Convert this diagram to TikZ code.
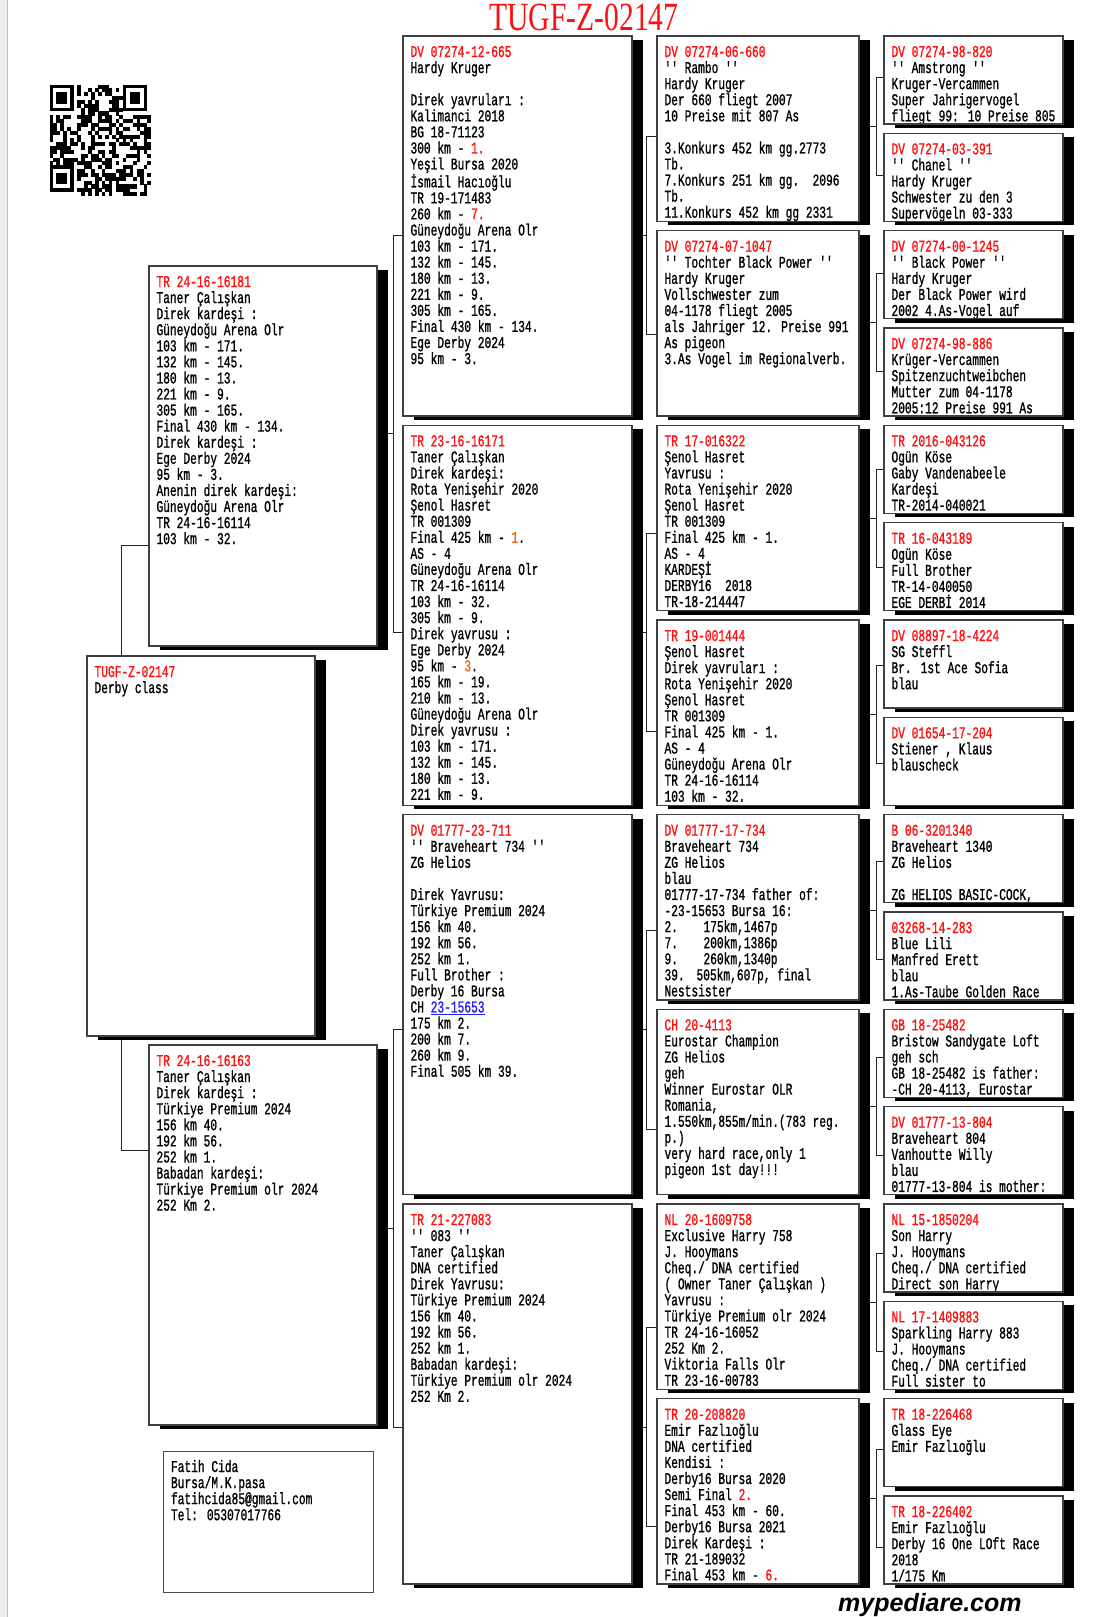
\documentclass[tikz,border=0pt]{standalone}
\usepackage{fontspec}
\usepackage{graphicx}
\setmainfont{Liberation Serif}
\newfontfamily\monof[FakeStretch=0.68,FakeBold=1.0,Ligatures=TeXOff]{Liberation Mono}
\newfontfamily\wmfont{Liberation Sans}
\usetikzlibrary{shadows,backgrounds}
\pgfdeclarelayer{bgzero}
\pgfsetlayers{bgzero,background,main}
\definecolor{idred}{HTML}{FF1010}
\definecolor{hlor}{HTML}{E8651A}
\definecolor{lnk}{HTML}{2020FF}
\newcommand{\rdx}[1]{\textcolor{idred}{#1}}
\newcommand{\ogx}[1]{\textcolor{hlor}{#1}}
\newcommand{\blnk}{\mbox{}}
\tikzset{
  pbx/.style={rectangle, fill=white, inner sep=0pt, outer sep=0pt, anchor=north west,
     drop shadow={shadow xshift=11pt, shadow yshift=-4pt, fill=black, opacity=1}},
  pbord/.style={draw=black!75, line width=1.1pt},
  ptxt/.style={anchor=north west, inner sep=0pt, outer sep=0pt, align=left,
     font=\monof\fontsize{16.5}{16.07}\selectfont},
  conn/.style={draw=black!85, line width=1pt},
}
\newcommand{\pedbox}[6]{%
  \node[pbx, minimum width=#4pt, minimum height=#5pt] (#1) at (#2,#3) {};
  \begin{scope}
    \clip (#1.north west) rectangle (#1.south east);
    \node[ptxt] (#1-t) at ([xshift=7.5pt,yshift=-9pt]#1.north west) {\rule{0pt}{12pt}#6};
  \end{scope}
  \draw[pbord] (#1.north west) rectangle (#1.south east);
}
\newcommand{\pconn}[7]{%
  \coordinate (#1-p) at (#2,#3);
  \coordinate (#1-a) at (#2,#5);
  \coordinate (#1-b) at (#2,#7);
  \draw[conn] (#1.east |- #1-p) -- (#1-p);
  \draw[conn] (#4.west |- #1-a) -- (#1-a) -- (#1-b) -- (#6.west |- #1-b);
}
\begin{document}
\begin{tikzpicture}[x=1pt,y=-1pt]
\useasboundingbox (0,0) rectangle (1113,1617);
\begin{pgfonlayer}{bgzero}
  \fill[white] (0,0) rectangle (1113,1617);
  \fill[black!7] (0,0) rectangle (7,1617);
  \draw[black!25, line width=1pt] (7.5,0) -- (7.5,1617);
\end{pgfonlayer}

% title
\node[text=idred, font=\fontsize{40}{40}\selectfont, inner sep=0pt] (title) at (584,17.5) {\scalebox{0.74}[1]{TUGF-Z-02147}};

% QR code
\begin{scope}[shift={(49.5,84.6)}]
  \def\mw{3.487}\def\mh{3.841}
  \pgfmathsetseed{4242}
  \foreach \i in {0,...,28}{
    \foreach \j in {0,...,28}{
      \pgfmathtruncatemacro\qv{(((\i<8)&&(\j<8)) || ((\i>20)&&(\j<8)) || ((\i<8)&&(\j>20))) ? 0 : ((rnd<0.5) ? 1 : 0)}
      \ifnum\qv=1 \fill[black] (\i*\mw,\j*\mh) rectangle ++(\mw+0.2,\mh+0.2); \fi
    }
  }
  \foreach \fx/\fy in {0/0,21/0,0/21}{
    \fill[black] (\fx*\mw,\fy*\mh) rectangle ++(7*\mw,7*\mh);
    \fill[white] (\fx*\mw+\mw,\fy*\mh+\mh) rectangle ++(5*\mw,5*\mh);
    \fill[black] (\fx*\mw+2*\mw,\fy*\mh+2*\mh) rectangle ++(3*\mw,3*\mh);
  }
\end{scope}

% column 4
\pedbox{c4a}{884}{36}{179}{88}{\rdx{DV 07274-98-820}\\'' Amstrong ''\\Kruger-Vercammen\\Super Jahrigervogel\\fliegt 99: 10 Preise 805}
\pedbox{c4b}{884}{133.33}{179}{88}{\rdx{DV 07274-03-391}\\'' Chanel ''\\Hardy Kruger\\Schwester zu den 3\\Supervögeln 03-333}
\pedbox{c4c}{884}{230.67}{179}{88}{\rdx{DV 07274-00-1245}\\'' Black Power ''\\Hardy Kruger\\Der Black Power wird\\2002 4.As-Vogel auf}
\pedbox{c4d}{884}{328}{179}{88}{\rdx{DV 07274-98-886}\\Krüger-Vercammen\\Spitzenzuchtweibchen\\Mutter zum 04-1178\\2005:12 Preise 991 As}
\pedbox{c4e}{884}{425.33}{179}{88}{\rdx{TR 2016-043126}\\Ogün Köse\\Gaby Vandenabeele\\Kardeşi\\TR-2014-040021}
\pedbox{c4f}{884}{522.67}{179}{88}{\rdx{TR 16-043189}\\Ogün Köse\\Full Brother\\TR-14-040050\\EGE DERBİ 2014}
\pedbox{c4g}{884}{620}{179}{88}{\rdx{DV 08897-18-4224}\\SG Steffl\\Br. 1st Ace Sofia\\blau}
\pedbox{c4h}{884}{717.33}{179}{88}{\rdx{DV 01654-17-204}\\Stiener , Klaus\\blauscheck}
\pedbox{c4i}{884}{814.67}{179}{88}{\rdx{B 06-3201340}\\Braveheart 1340\\ZG Helios\\\blnk\\ZG HELIOS BASIC-COCK,}
\pedbox{c4j}{884}{912}{179}{88}{\rdx{03268-14-283}\\Blue Lili\\Manfred Erett\\blau\\1.As-Taube Golden Race}
\pedbox{c4k}{884}{1009.33}{179}{88}{\rdx{GB 18-25482}\\Bristow Sandygate Loft\\geh sch\\GB 18-25482 is father:\\-CH 20-4113, Eurostar}
\pedbox{c4l}{884}{1106.67}{179}{88}{\rdx{DV 01777-13-804}\\Braveheart 804\\Vanhoutte Willy\\blau\\01777-13-804 is mother:}
\pedbox{c4m}{884}{1204}{179}{88}{\rdx{NL 15-1850204}\\Son Harry\\J. Hooymans\\Cheq./ DNA certified\\Direct son Harry}
\pedbox{c4n}{884}{1301.33}{179}{88}{\rdx{NL 17-1409883}\\Sparkling Harry 883\\J. Hooymans\\Cheq./ DNA certified\\Full sister to}
\pedbox{c4o}{884}{1398.67}{179}{88}{\rdx{TR 18-226468}\\Glass Eye\\Emir Fazlıoğlu}
\pedbox{c4p}{884}{1496}{179}{88}{\rdx{TR 18-226402}\\Emir Fazlıoğlu\\Derby 16 One LOft Race\\2018\\1/175 Km}

% column 3
\pedbox{c3a}{657}{36}{202}{185.33}{\rdx{DV 07274-06-660}\\'' Rambo ''\\Hardy Kruger\\Der 660 fliegt 2007\\10 Preise mit 807 As\\\blnk\\3.Konkurs 452 km gg.2773\\Tb.\\7.Konkurs 251 km gg.\ \ 2096\\Tb.\\11.Konkurs 452 km gg 2331}
\pedbox{c3b}{657}{230.67}{202}{185.33}{\rdx{DV 07274-07-1047}\\'' Tochter Black Power ''\\Hardy Kruger\\Vollschwester zum\\04-1178 fliegt 2005\\als Jahriger 12. Preise 991\\As pigeon\\3.As Vogel im Regionalverb.}
\pedbox{c3c}{657}{425.33}{202}{185.33}{\rdx{TR 17-016322}\\Şenol Hasret\\Yavrusu :\\Rota Yenişehir 2020\\Şenol Hasret\\TR 001309\\Final 425 km - 1.\\AS - 4\\KARDEŞİ\\DERBY16\ \ 2018\\TR-18-214447}
\pedbox{c3d}{657}{620}{202}{185.33}{\rdx{TR 19-001444}\\Şenol Hasret\\Direk yavruları :\\Rota Yenişehir 2020\\Şenol Hasret\\TR 001309\\Final 425 km - 1.\\AS - 4\\Güneydoğu Arena Olr\\TR 24-16-16114\\103 km - 32.}
\pedbox{c3e}{657}{814.67}{202}{185.33}{\rdx{DV 01777-17-734}\\Braveheart 734\\ZG Helios\\blau\\01777-17-734 father of:\\-23-15653 Bursa 16:\\\makebox[39pt][l]{2.}175km,1467p\\\makebox[39pt][l]{7.}200km,1386p\\\makebox[39pt][l]{9.}260km,1340p\\\makebox[32pt][l]{39.}505km,607p, final\\Nestsister}
\pedbox{c3f}{657}{1009.33}{202}{185.33}{\rdx{CH 20-4113}\\Eurostar Champion\\ZG Helios\\geh\\Winner Eurostar OLR\\Romania,\\1.550km,855m/min.(783 reg.\\p.)\\very hard race,only 1\\pigeon 1st day!!!}
\pedbox{c3g}{657}{1204}{202}{185.33}{\rdx{NL 20-1609758}\\Exclusive Harry 758\\J. Hooymans\\Cheq./ DNA certified\\( Owner Taner Çalışkan )\\Yavrusu :\\Türkiye Premium olr 2024\\TR 24-16-16052\\252 Km 2.\\Viktoria Falls Olr\\TR 23-16-00783}
\pedbox{c3h}{657}{1398.67}{202}{185.33}{\rdx{TR 20-208820}\\Emir Fazlıoğlu\\DNA certified\\Kendisi :\\Derby16 Bursa 2020\\Semi Final \rdx{2.}\\Final 453 km - 60.\\Derby16 Bursa 2021\\Direk Kardeşi :\\TR 21-189032\\Final 453 km - \rdx{6.}}

% column 2
\pedbox{c2a}{403}{36}{229}{380}{\rdx{DV 07274-12-665}\\Hardy Kruger\\\blnk\\Direk yavruları :\\Kalimanci 2018\\BG 18-71123\\300 km - \rdx{1.}\\Yeşil Bursa 2020\\İsmail Hacıoğlu\\TR 19-171483\\260 km - \rdx{7.}\\Güneydoğu Arena Olr\\103 km - 171.\\132 km - 145.\\180 km - 13.\\221 km - 9.\\305 km - 165.\\Final 430 km - 134.\\Ege Derby 2024\\95 km - 3.}
\pedbox{c2b}{403}{425.33}{229}{380}{\rdx{TR 23-16-16171}\\Taner Çalışkan\\Direk kardeşi:\\Rota Yenişehir 2020\\Şenol Hasret\\TR 001309\\Final 425 km - \ogx{1}.\\AS - 4\\Güneydoğu Arena Olr\\TR 24-16-16114\\103 km - 32.\\305 km - 9.\\Direk yavrusu :\\Ege Derby 2024\\95 km - \ogx{3}.\\165 km - 19.\\210 km - 13.\\Güneydoğu Arena Olr\\Direk yavrusu :\\103 km - 171.\\132 km - 145.\\180 km - 13.\\221 km - 9.}
\pedbox{c2c}{403}{814.67}{229}{380}{\rdx{DV 01777-23-711}\\'' Braveheart 734 ''\\ZG Helios\\\blnk\\Direk Yavrusu:\\Türkiye Premium 2024\\156 km 40.\\192 km 56.\\252 km 1.\\Full Brother :\\Derby 16 Bursa\\CH \textcolor{lnk}{\underline{23-15653}}\\175 km 2.\\200 km 7.\\260 km 9.\\Final 505 km 39.}
\pedbox{c2d}{403}{1204}{229}{380}{\rdx{TR 21-227083}\\'' 083 ''\\Taner Çalışkan\\DNA certified\\Direk Yavrusu:\\Türkiye Premium 2024\\156 km 40.\\192 km 56.\\252 km 1.\\Babadan kardeşi:\\Türkiye Premium olr 2024\\252 Km 2.}

% column 1
\pedbox{s}{149}{266}{228}{380}{\rdx{TR 24-16-16181}\\Taner Çalışkan\\Direk kardeşi :\\Güneydoğu Arena Olr\\103 km - 171.\\132 km - 145.\\180 km - 13.\\221 km - 9.\\305 km - 165.\\Final 430 km - 134.\\Direk kardeşi :\\Ege Derby 2024\\95 km - 3.\\Anenin direk kardeşi:\\Güneydoğu Arena Olr\\TR 24-16-16114\\103 km - 32.}
\pedbox{m}{87}{656}{228}{380}{\rdx{TUGF-Z-02147}\\Derby class}
\pedbox{d}{149}{1045}{228}{380}{\rdx{TR 24-16-16163}\\Taner Çalışkan\\Direk kardeşi :\\Türkiye Premium 2024\\156 km 40.\\192 km 56.\\252 km 1.\\Babadan kardeşi:\\Türkiye Premium olr 2024\\252 Km 2.}

% contact
\node[rectangle, draw=black!70, line width=1pt, fill=white, minimum width=210pt, minimum height=141pt, anchor=north west, inner sep=0pt] (info) at (163,1451) {};
\node[ptxt] (info-t) at ([xshift=8pt,yshift=-9pt]info.north west) {\rule{0pt}{12pt}Fatih Cida\\Bursa/M.K.pasa\\fatihcida85@gmail.com\\Tel: 05307017766};

% watermark
\node[anchor=base west, inner sep=0pt, font=\wmfont\bfseries\itshape\fontsize{25}{25}\selectfont] (wm) at (838,1611) {mypediare.com};

% connectors
\begin{pgfonlayer}{background}
  \coordinate (m-a) at (121,545);
  \coordinate (m-b) at (121,1150);
  \draw[conn] (s.west |- m-a) -- (m-a) -- (m-b) -- (d.west |- m-b);
  \pconn{s}{393}{433.95}{c2a}{235.3}{c2b}{632.6}
  \pconn{d}{393}{1228.55}{c2c}{1029.9}{c2d}{1427.2}
  \pconn{c2a}{646}{235.3}{c3a}{136}{c3b}{334.66}
  \pconn{c2b}{646}{632.6}{c3c}{533.32}{c3d}{731.98}
  \pconn{c2c}{646}{1029.9}{c3e}{930.64}{c3f}{1129.3}
  \pconn{c2d}{646}{1427.2}{c3g}{1327.96}{c3h}{1526.62}
  \pconn{c3a}{876}{126}{c4a}{77}{c4b}{175}
  \pconn{c3b}{876}{322}{c4c}{273}{c4d}{371}
  \pconn{c3c}{876}{518}{c4e}{469}{c4f}{567}
  \pconn{c3d}{876}{714}{c4g}{665}{c4h}{763}
  \pconn{c3e}{876}{910}{c4i}{861}{c4j}{959}
  \pconn{c3f}{876}{1106}{c4k}{1057}{c4l}{1155}
  \pconn{c3g}{876}{1302}{c4m}{1253}{c4n}{1351}
  \pconn{c3h}{876}{1498}{c4o}{1449}{c4p}{1547}
\end{pgfonlayer}
\end{tikzpicture}
\end{document}
